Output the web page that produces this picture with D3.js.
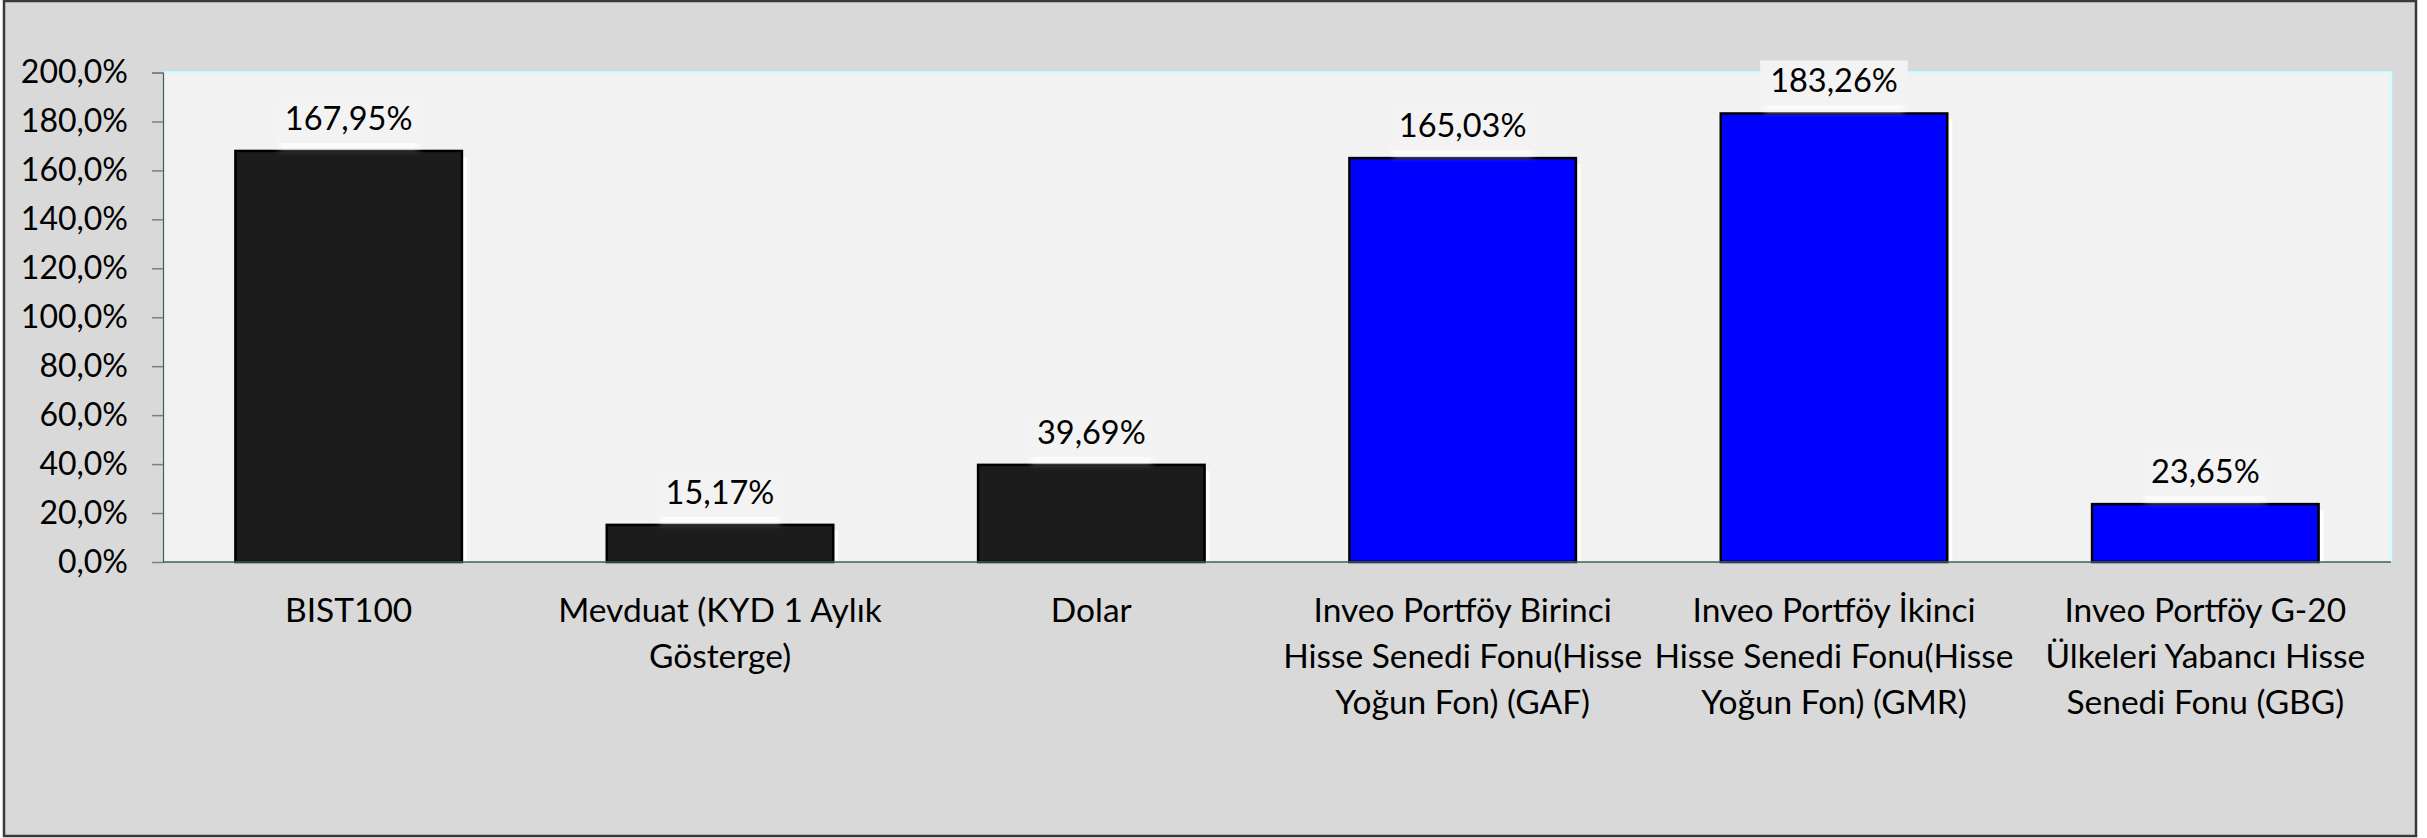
<!DOCTYPE html>
<html>
<head>
<meta charset="utf-8">
<script src="https://cdn.jsdelivr.net/npm/d3@7"></script>
<style>
  body { margin: 0; background: #fff; }
  text { font-family: Lato, "Open Sans", sans-serif; fill: #000; }
</style>
</head>
<body>
<div class="vis-bar"></div>
<script>
const categories = [
    ['BIST100'],
    ['Mevduat (KYD 1 Aylık', 'Gösterge)'],
    ['Dolar'],
    ['Inveo Portföy Birinci', 'Hisse Senedi Fonu(Hisse', 'Yoğun Fon) (GAF)'],
    ['Inveo Portföy İkinci', 'Hisse Senedi Fonu(Hisse', 'Yoğun Fon) (GMR)'],
    ['Inveo Portföy G-20', 'Ülkeleri Yabancı Hisse', 'Senedi Fonu (GBG)']
];
const values = [167.95, 15.17, 39.69, 165.03, 183.26, 23.65];
const labels = ['167,95%', '15,17%', '39,69%', '165,03%', '183,26%', '23,65%'];
const barColors = ['#1c1c1c', '#1c1c1c', '#1c1c1c', '#0000ff', '#0000ff', '#0000ff'];
const yTicks = [0, 20, 40, 60, 80, 100, 120, 140, 160, 180, 200];

const outerWidth = 2427, outerHeight = 838;
const margin = {top: 72.5, right: 36, bottom: 276, left: 163};
const width = outerWidth - margin.left - margin.right;
const height = outerHeight - margin.top - margin.bottom;

const root = d3.select('.vis-bar')
    .append('svg')
    .attr('width', outerWidth)
    .attr('height', outerHeight);

const defs = root.append('defs');
defs.append('filter')
    .attr('id', 'glow')
    .attr('x', '-20%').attr('y', '-100%')
    .attr('width', '140%').attr('height', '300%')
    .append('feGaussianBlur')
    .attr('stdDeviation', 3);

// chart area background + frame
root.append('rect')
    .attr('x', 4).attr('y', 1)
    .attr('width', 2412).attr('height', 835)
    .attr('fill', '#d9d9d9')
    .attr('stroke', '#3a3a3a')
    .attr('stroke-width', 2.5);

const svg = root.append('g')
    .attr('transform', 'translate(' + margin.left + ',' + margin.top + ')');

svg.append('rect')
    .attr('width', width)
    .attr('height', height)
    .attr('fill', '#f2f2f2');

// light cyan border on top and right
svg.append('path')
    .attr('d', 'M0,0H' + width + 'V' + height)
    .attr('fill', 'none')
    .attr('stroke', '#ccffff')
    .attr('stroke-width', 2.5);

const x = d3.scaleBand()
    .domain(d3.range(values.length))
    .range([0, width])
    .paddingInner(0.39)
    .paddingOuter(0.195);

const y = d3.scaleLinear()
    .domain([0, 200])
    .range([height, 0]);

// y axis
const yAxis = svg.append('g')
    .call(d3.axisLeft(y)
        .tickValues(yTicks)
        .tickSize(11)
        .tickPadding(24)
        .tickFormat(d => d.toFixed(1).replace('.', ',') + '%'));
yAxis.select('.domain').attr('stroke', '#3f5f5f').attr('stroke-width', 1.2);
yAxis.selectAll('.tick line').attr('stroke', '#7f7f7f').attr('stroke-width', 1.5);
yAxis.selectAll('.tick text')
    .style('font-family', 'Lato, sans-serif')
    .style('font-size', '32px')
    .attr('fill', '#000');

// bar white shadows
svg.selectAll('.shadow')
    .data(values)
    .enter().append('rect')
    .attr('class', 'shadow')
    .attr('x', (d, i) => x(i) + 5)
    .attr('y', d => y(d) + 6)
    .attr('width', x.bandwidth())
    .attr('height', d => height - y(d) - 6)
    .attr('fill', '#ffffff');

// bars
svg.selectAll('.bar')
    .data(values)
    .enter().append('rect')
    .attr('class', 'bar')
    .attr('x', (d, i) => x(i))
    .attr('y', d => y(d))
    .attr('width', x.bandwidth())
    .attr('height', d => height - y(d))
    .attr('fill', (d, i) => barColors[i])
    .attr('stroke', '#000')
    .attr('stroke-width', 2.5);

// x axis line
svg.append('line')
    .attr('x1', 0).attr('x2', width)
    .attr('y1', height).attr('y2', height)
    .attr('stroke', '#3f5f5f')
    .attr('stroke-width', 1.5);

// data labels with glow box
const labelG = svg.selectAll('.dlabel')
    .data(values)
    .enter().append('g')
    .attr('class', 'dlabel')
    .attr('transform', (d, i) => 'translate(' + (x(i) + x.bandwidth() / 2) + ',' + (y(d) - 21) + ')');

labelG.each(function (d, i) {
    const g = d3.select(this);
    const t = g.append('text')
        .attr('text-anchor', 'middle')
        .style('font-size', '32.5px')
        .text(labels[i]);
    const w = t.node().getComputedTextLength() + 20;
    g.insert('rect', 'text')
        .attr('x', -w / 2 + 4).attr('y', 10)
        .attr('width', w - 8).attr('height', 8)
        .attr('fill', '#ffffff')
        .attr('filter', 'url(#glow)');
    g.insert('rect', 'text')
        .attr('x', -w / 2).attr('y', -32)
        .attr('width', w).attr('height', 45)
        .attr('fill', '#f3f3f3');
});

// category labels
const catG = svg.selectAll('.cat')
    .data(categories)
    .enter().append('text')
    .attr('class', 'cat')
    .attr('text-anchor', 'middle')
    .attr('x', (d, i) => x(i) + x.bandwidth() / 2)
    .attr('y', height + 60)
    .style('font-size', '33.5px');

catG.selectAll('tspan')
    .data(d => d)
    .enter().append('tspan')
    .attr('x', function () { return d3.select(this.parentNode).attr('x'); })
    .attr('dy', (d, i) => i === 0 ? 0 : 46)
    .text(d => d);
</script>
</body>
</html>
